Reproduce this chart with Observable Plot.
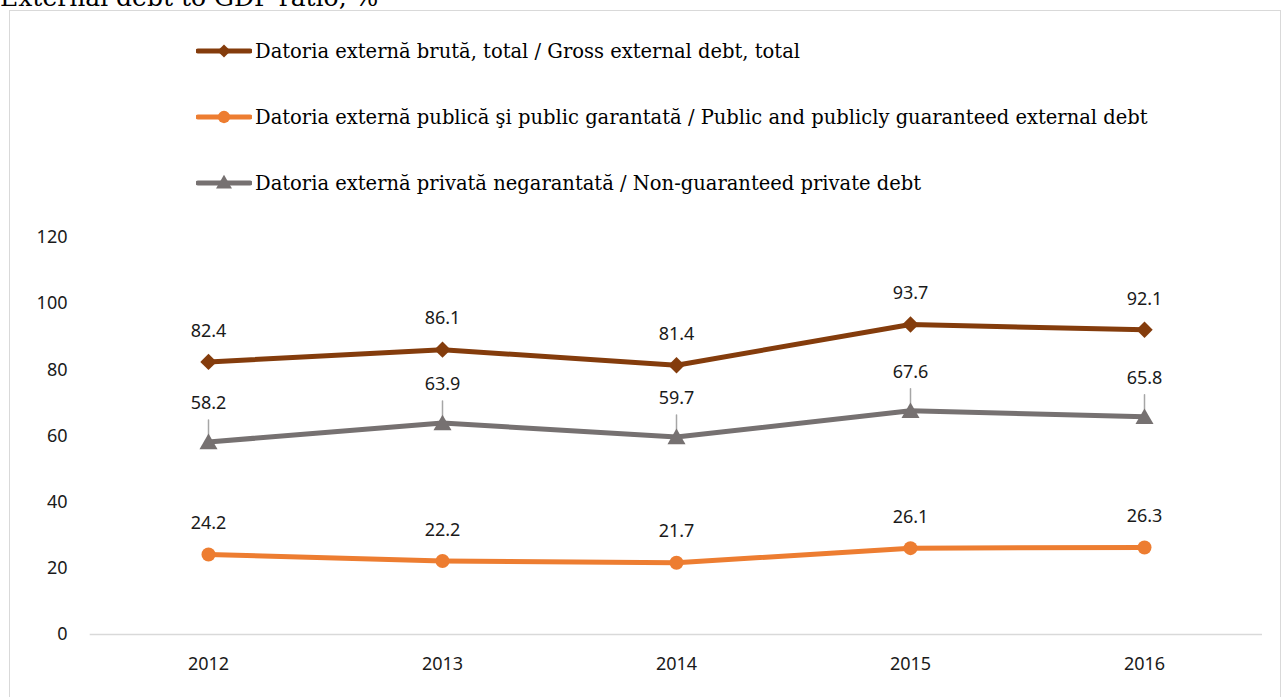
<!DOCTYPE html>
<html><head><meta charset="utf-8">
<script src="https://cdn.jsdelivr.net/npm/d3@7"></script>
<script src="https://cdn.jsdelivr.net/npm/@observablehq/plot@0.6"></script>
<style>
body{margin:0;background:#fff;}
#wrap{position:relative;width:1283px;height:697px;overflow:hidden;background:#fff}
#title{position:absolute;left:0;top:-15px;font:25px "DejaVu Serif";white-space:nowrap;color:#000;line-height:25px}
#frame{position:absolute;left:9px;top:10px;width:1272px;height:720px;border:1.5px solid #d9d9d9;box-sizing:border-box}
#chart{position:absolute;left:0;top:0}
.leg{position:absolute;left:196px;height:30px;display:flex;align-items:center;font:19.5px "DejaVu Serif";color:#000;white-space:nowrap}
.leg svg{margin-right:3px}
</style></head>
<body>
<div id="wrap">
  <div id="frame"></div>
  <div id="title"></div>
  <div id="chart"></div>
</div>
<script>
const titleText = "External debt to GDP ratio, %";
const years = ["2012","2013","2014","2015","2016"];
const gross = [82.4, 86.1, 81.4, 93.7, 92.1];
const publicDebt = [24.2, 22.2, 21.7, 26.1, 26.3];
const privateDebt = [58.2, 63.9, 59.7, 67.6, 65.8];
const seriesNames = [
  "Datoria externă brută, total / Gross external debt, total",
  "Datoria externă publică şi public garantată / Public and publicly guaranteed external debt",
  "Datoria externă privată negarantată / Non-guaranteed private debt"
];
const seriesColors = ["#843C0C", "#ED7D31", "#767171"];
const seriesSymbols = ["diamond2", "circle", "triangle"];
const yTicks = [0, 20, 40, 60, 80, 100, 120];

document.getElementById("title").textContent = titleText;

const toRows = (vals, s) => vals.map((v, i) => ({year: years[i], value: v, series: s}));
const grossRows = toRows(gross, seriesNames[0]);
const pubRows = toRows(publicDebt, seriesNames[1]);
const privRows = toRows(privateDebt, seriesNames[2]);

const leader = {draw(ctx, l) { ctx.moveTo(0, 0); ctx.lineTo(0, -l); }};
const fmt = d => d.value.toFixed(1);

const chart = Plot.plot({
  width: 1283, height: 697,
  marginLeft: 89.7, marginRight: 21, marginTop: 237, marginBottom: 63,
  style: {fontFamily: "'Noto Sans', sans-serif", fontSize: "18px", color: "#1a1a1a", background: "transparent"},
  x: {type: "point", domain: years, padding: 0.5, label: null, tickSize: 0, tickPadding: 23},
  y: {domain: [0, 120], ticks: yTicks, label: null, tickSize: 0, tickPadding: 22.7},
  marks: [
    Plot.ruleY([0], {stroke: "#d9d9d9", strokeWidth: 1.5}),
    Plot.vector(privRows, {x: "year", y: "value", length: 22, rotate: 0, anchor: "start", shape: leader, stroke: "#a6a6a6", strokeWidth: 1.5}),
    Plot.line(grossRows, {x: "year", y: "value", stroke: seriesColors[0], strokeWidth: 5}),
    Plot.line(pubRows, {x: "year", y: "value", stroke: seriesColors[1], strokeWidth: 5}),
    Plot.line(privRows, {x: "year", y: "value", stroke: seriesColors[2], strokeWidth: 5}),
    Plot.dot(grossRows, {x: "year", y: "value", symbol: seriesSymbols[0], r: 7.4, fill: seriesColors[0]}),
    Plot.dot(pubRows, {x: "year", y: "value", symbol: seriesSymbols[1], r: 7, fill: seriesColors[1]}),
    Plot.dot(privRows, {x: "year", y: "value", symbol: seriesSymbols[2], r: 6.7, fill: seriesColors[2], dy: 2}),
    Plot.text(grossRows, {x: "year", y: "value", text: fmt, dy: -31, fontSize: 18, fill: "#1a1a1a"}),
    Plot.text(pubRows, {x: "year", y: "value", text: fmt, dy: -31, fontSize: 18, fill: "#1a1a1a"}),
    Plot.text(privRows, {x: "year", y: "value", text: fmt, dy: -39, fontSize: 18, fill: "#1a1a1a"})
  ]
});
document.getElementById("chart").appendChild(chart);

// legend
const legendTops = [36, 102, 168];
const wrap = document.getElementById("wrap");
seriesNames.forEach((name, i) => {
  const item = document.createElement("div");
  item.className = "leg";
  item.style.top = legendTops[i] + "px";
  const svg = d3.create("svg").attr("width", 56).attr("height", 30);
  svg.append("line").attr("x1", 2).attr("x2", 54).attr("y1", 15).attr("y2", 15)
    .attr("stroke", seriesColors[i]).attr("stroke-width", 5).attr("stroke-linecap", "round");
  const symMap = {diamond2: d3.symbolDiamond2, circle: d3.symbolCircle, triangle: d3.symbolTriangle};
  const sizes = [110, 120, 110];
  svg.append("path").attr("d", d3.symbol(symMap[seriesSymbols[i]], sizes[i])())
    .attr("transform", `translate(28,${i === 2 ? 16 : 15})`).attr("fill", seriesColors[i]);
  item.appendChild(svg.node());
  const span = document.createElement("span");
  span.textContent = name;
  item.appendChild(span);
  wrap.appendChild(item);
});
</script>
</body></html>
